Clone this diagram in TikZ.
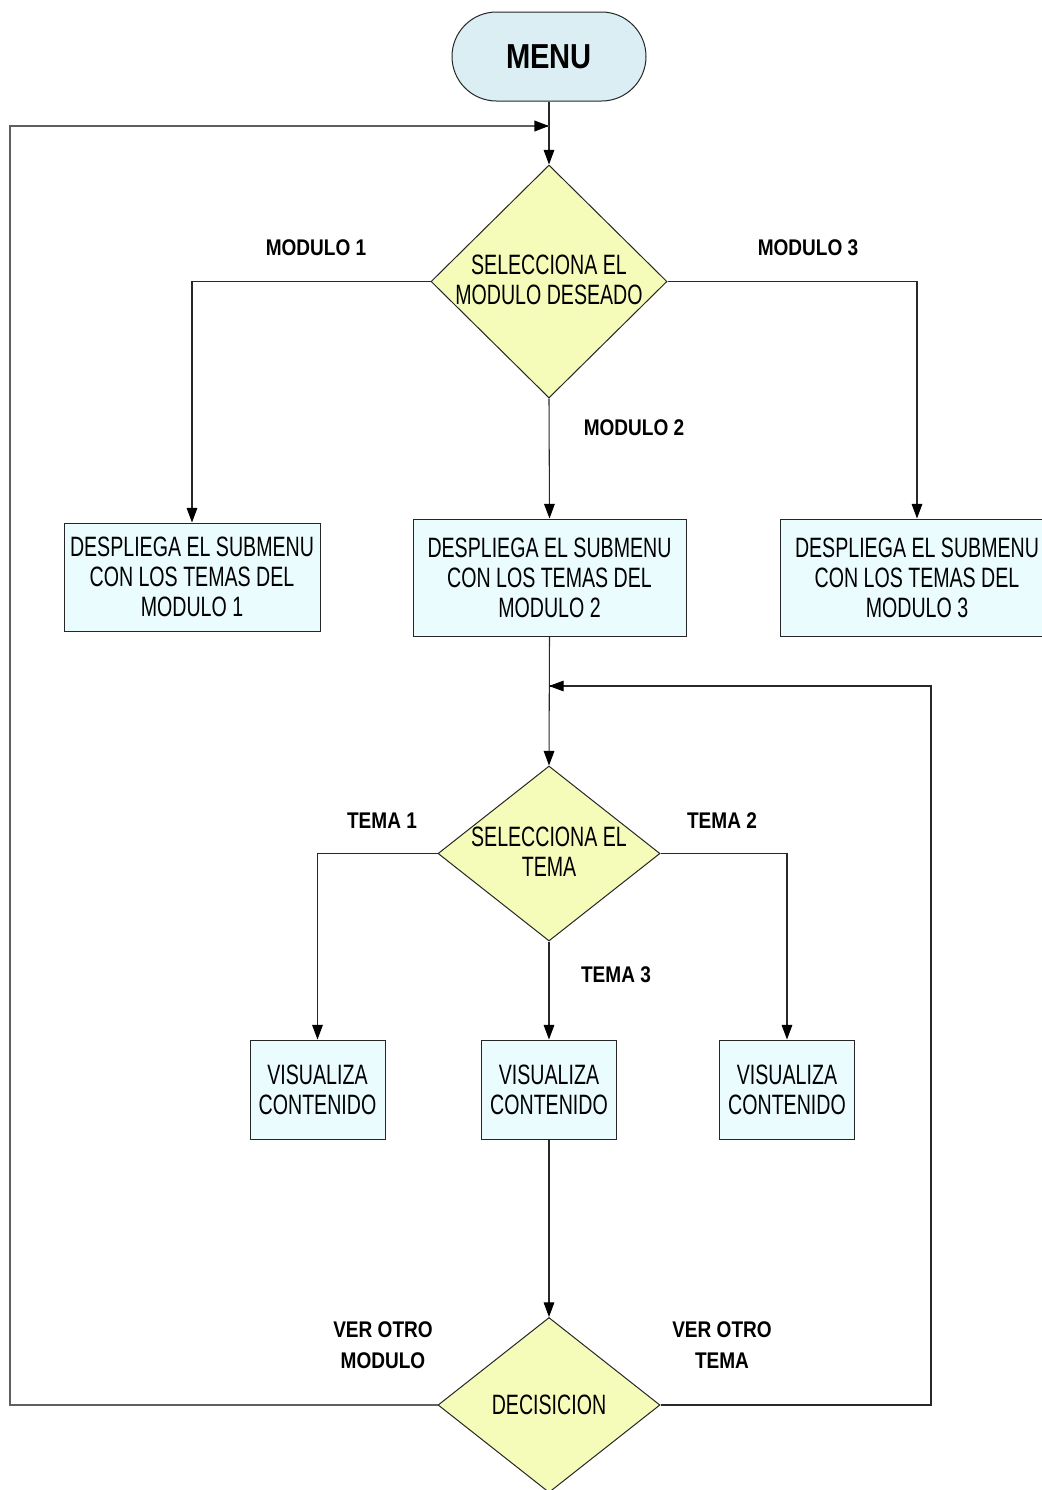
\documentclass[tikz,border=0pt]{standalone}
\usepackage{fontspec}
\newfontfamily\nrw[FakeStretch=0.7]{Liberation Sans}
\newfontfamily\nrwb[FakeStretch=0.84]{Liberation Sans}
\usetikzlibrary{shapes.geometric,shapes.misc,arrows.meta}
\definecolor{boxfill}{RGB}{234,252,254}
\definecolor{menufill}{RGB}{218,238,243}
\definecolor{decfill}{RGB}{245,252,185}
\definecolor{wire}{RGB}{40,40,40}
\definecolor{loopwire}{RGB}{95,95,95}

\begin{document}
\begin{tikzpicture}[x=0.75pt,y=-0.75pt,
  txt/.style={font=\nrw\fontsize{21}{22.5}\selectfont, align=center, text=black},
  lbl/.style={font=\nrwb\bfseries\fontsize{17}{23}\selectfont, align=center, text=black},
  menubox/.style={rounded rectangle, draw=black!85, fill=menufill, line width=0.75pt,
    minimum width=145.5pt, minimum height=66.75pt, inner sep=0pt,
    font=\nrwb\bfseries\fontsize{26}{28}\selectfont},
  stepbox/.style={rectangle, draw=black!85, fill=boxfill, line width=0.75pt, inner sep=0pt, txt},
  bigbox/.style={stepbox, minimum width=204.75pt, minimum height=87.75pt},
  viewbox/.style={stepbox, minimum width=101.25pt, minimum height=74.25pt},
  decision/.style={diamond, draw=black!85, fill=decfill, line width=0.75pt, inner sep=0pt},
  tip/.style={-{Triangle[length=11pt,width=8pt,color=black]}},
  flow/.style={draw=wire, line width=0.8pt, tip},
  plain/.style={draw=wire, line width=0.8pt},
  loopline/.style={draw=loopwire, line width=1.3pt}
]
\useasboundingbox (0,0) rectangle (1042,1490);
\clip (0,0) rectangle (1042,1490);

% start
\node[menubox] (menu) at (549,56.5) {MENU};

% module selection
\node[decision, minimum width=177pt, minimum height=174.75pt] (d1) at (549,281.5) {};
\node[txt] (d1t) at (549,279.5) {SELECCIONA EL\\MODULO DESEADO};

\node[stepbox, minimum width=192pt, minimum height=81pt] (m1) at (192,577)
  {DESPLIEGA EL SUBMENU\\CON LOS TEMAS DEL\\MODULO 1};
\node[bigbox] (m2) at (549.5,577.5) {DESPLIEGA EL SUBMENU\\CON LOS TEMAS DEL\\MODULO 2};
\node[bigbox] (m3) at (917,577.5) {DESPLIEGA EL SUBMENU\\CON LOS TEMAS DEL\\MODULO 3};

% topic selection
\node[decision, minimum width=166.5pt, minimum height=131.25pt] (d2) at (549,853.5) {};
\node[txt] (d2t) at (549,852) {SELECCIONA EL\\TEMA};

\node[viewbox] (v1) at (317.5,1089.5) {VISUALIZA\\CONTENIDO};
\node[viewbox] (v2) at (549,1089.5) {VISUALIZA\\CONTENIDO};
\node[viewbox] (v3) at (787,1089.5) {VISUALIZA\\CONTENIDO};

% final decision
\node[decision, minimum width=166.5pt, minimum height=131.25pt] (d3) at (549,1405) {};
\node[txt] (d3t) at (d3.center) {DECISICION};

% junction points of the return loops
\coordinate (j1) at (549,126);
\coordinate (j2) at (549,686);
\coordinate (lc) at (10,1405);
\coordinate (rc) at (931,1405);

% connectors
\draw[flow] (menu.south) -- (d1.north);
\draw[flow] (d1.west) -| (m1.north);
\draw[flow] (d1.south) -- (m2.north);
\draw[flow] (d1.east) -| (m3.north);
\draw[flow] (m2.south) -- (d2.north);
\draw[flow] (d2.west) -| (v1.north);
\draw[flow] (d2.south) -- (v2.north);
\draw[flow] (d2.east) -| (v3.north);
\draw[flow] (v2.south) -- (d3.north);

% return loops
\draw[loopline] (d3.west) -- (lc) |- (j1);
\draw[loopline, tip] ([xshift=-30pt]j1) -- (j1);
\draw[plain] (d3.east) -- (rc) |- (j2);
\draw[flow] ([xshift=30pt]j2) -- (j2);

% branch labels
\node[lbl] (l1) at (316,248) {MODULO 1};
\node[lbl] (l3) at (808,248) {MODULO 3};
\node[lbl] (l2) at (634,428) {MODULO 2};
\node[lbl] (t1) at (382,821) {TEMA 1};
\node[lbl] (t2) at (722,821) {TEMA 2};
\node[lbl] (t3) at (616,975) {TEMA 3};
\node[lbl] (o1) at (383,1345) {VER OTRO\\MODULO};
\node[lbl] (o2) at (722,1345) {VER OTRO\\TEMA};
\end{tikzpicture}
\end{document}
